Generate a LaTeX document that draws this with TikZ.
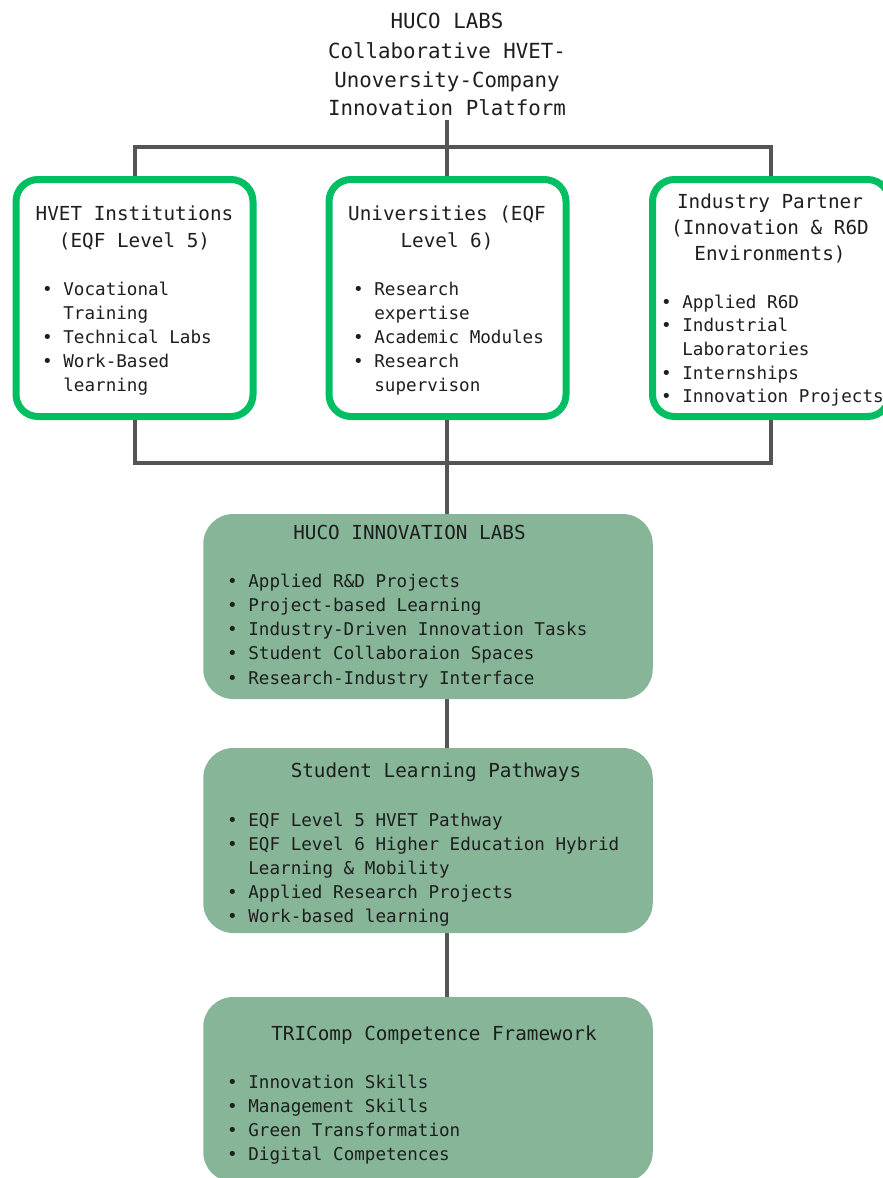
\documentclass[tikz,border=0pt]{standalone}
\usepackage{fontspec}
\newfontfamily\mono{DejaVu Sans Mono}
\definecolor{gborder}{RGB}{0,191,99}
\definecolor{gfill}{RGB}{134,181,152}
\definecolor{connc}{RGB}{85,85,85}
\definecolor{ink}{RGB}{30,30,30}
\pgfdeclarelayer{bg}
\pgfsetlayers{bg,main}
\newcommand\bul{\makebox[1.204em][l]{•}}
\newcommand\cnt{\hspace*{1.204em}}
\begin{document}
\begin{tikzpicture}[x=1pt,y=-1pt,
  conline/.style={draw=connc,line width=4pt},
  outline/.style={draw=gborder,line width=7pt,fill=white,rounded corners=22pt,minimum width=237pt,minimum height=237pt,inner sep=0pt},
  panel/.style={fill=gfill,rounded corners=30pt,minimum width=449.5pt,minimum height=185pt,inner sep=0pt},
  ttl/.style={font=\mono\fontsize{20.8}{29}\selectfont,text=ink,inner sep=0pt,anchor=base},
  hdr/.style={font=\mono\fontsize{19.3}{27}\selectfont,text=ink,inner sep=0pt,anchor=base},
  body/.style={font=\mono\fontsize{17.6}{24}\selectfont,text=ink,inner sep=0pt,anchor=base west},
]
\useasboundingbox (0,0) rectangle (883,1178);

% title
\foreach \s/\yy [count=\i] in {{HUCO LABS}/28,{Collaborative HVET-}/58,{Unoversity-Company}/87,{Innovation Platform}/115}
  \node[ttl] (t\i) at (447,\yy) {\s};

% partner boxes
\node[outline] (hvet) at (134.5,298) {};
\node[outline] (uni) at (447.5,298) {};
\node[outline] (ind) at (771,298) {};

\node[hdr] (h1a) at (134.5,220) {HVET Institutions};
\node[hdr] (h1b) at (134.5,247) {(EQF Level 5)};
\foreach \s [count=\i] in {{\bul Vocational},{\cnt Training},{\bul Technical Labs},{\bul Work-Based},{\cnt learning}}
  \node[body] (a\i) at (42,{295+24.2*(\i-1)}) {\s};

\node[hdr] (h2a) at (447,220) {Universities (EQF};
\node[hdr] (h2b) at (447,247) {Level 6)};
\foreach \s [count=\i] in {{\bul Research},{\cnt expertise},{\bul Academic Modules},{\bul Research},{\cnt supervison}}
  \node[body] (b\i) at (353,{295+24.2*(\i-1)}) {\s};

\node[hdr] (h3a) at (770,208) {Industry Partner};
\node[hdr] (h3b) at (770,234) {(Innovation \& R6D};
\node[hdr] (h3c) at (770,260) {Environments)};
\foreach \s [count=\i] in {{\bul Applied R6D},{\bul Industrial},{\cnt Laboratories},{\bul Internships},{\bul Innovation Projects}}
  \node[body] (c\i) at (661,{308+23.7*(\i-1)}) {\s};

% panels
\node[panel] (labs) at (428,606.5) {};
\node[hdr] (h4) at (409.5,539) {HUCO INNOVATION LABS};
\foreach \s [count=\i] in {{\bul Applied R\&D Projects},{\bul Project-based Learning},{\bul Industry-Driven Innovation Tasks},{\bul Student Collaboraion Spaces},{\bul Research-Industry Interface}}
  \node[body] (d\i) at (227,{587+24.3*(\i-1)}) {\s};

\node[panel] (path) at (428,840.5) {};
\node[hdr] (h5) at (436,777) {Student Learning Pathways};
\foreach \s [count=\i] in {{\bul EQF Level 5 HVET Pathway},{\bul EQF Level 6 Higher Education Hybrid},{\cnt Learning \& Mobility},{\bul Applied Research Projects},{\bul Work-based learning}}
  \node[body] (e\i) at (227,{826+24*(\i-1)}) {\s};

\node[panel] (tri) at (428,1089.5) {};
\node[hdr] (h6) at (434,1040) {TRIComp Competence Framework};
\foreach \s [count=\i] in {{\bul Innovation Skills},{\bul Management Skills},{\bul Green Transformation},{\bul Digital Competences}}
  \node[body] (f\i) at (227,{1088+24.3*(\i-1)}) {\s};

% connectors
\coordinate (jt) at (447,147);
\coordinate (jb) at (447,462.5);
\begin{pgfonlayer}{bg}
\draw[conline] ([yshift=-5pt]t4.south) -- (t4.south |- uni.north);
\draw[conline] (hvet.north) -- (hvet.north |- jt) -- (ind.north |- jt) -- (ind.north);
\draw[conline] (hvet.south) -- (hvet.south |- jb) -- (ind.south |- jb) -- (ind.south);
\draw[conline] (jb |- uni.south) -- (jb |- labs.north);
\draw[conline] (jb |- labs.south) -- (jb |- path.north);
\draw[conline] (jb |- path.south) -- (jb |- tri.north);
\end{pgfonlayer}
\end{tikzpicture}
\end{document}
